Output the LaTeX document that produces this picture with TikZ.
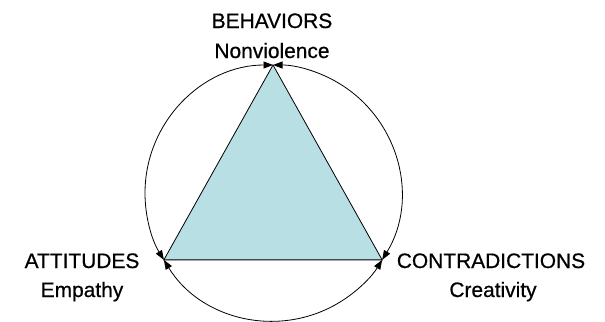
\documentclass[tikz,border=0pt]{standalone}
\usepackage{fontspec}
\setmainfont{Liberation Sans}[FakeBold=0.6]
\usetikzlibrary{arrows.meta,calc}
\definecolor{trifill}{RGB}{184,223,227}
\begin{document}
\begin{tikzpicture}[x=1bp,y=1bp,
  label text/.style={inner sep=0pt,anchor=base,font=\fontsize{21}{25}\selectfont},
  cycle arc/.style={line width=0.8bp,{Triangle[length=9.5bp,width=7bp]}-{Triangle[length=9.5bp,width=7bp]}},
  corner triangle/.style={draw=black,line width=0.8bp,fill=trifill,line join=miter}]
  \useasboundingbox (0,0) rectangle (605,321);
  % centre of the circle and the three corners on it
  \coordinate (O) at (273,128);
  \coordinate (T) at ($(O)+(90:128)$);
  \coordinate (L) at ($(O)+(211.5:128)$);
  \coordinate (R) at ($(O)+(328.5:128)$);
  % the triangle
  \draw[corner triangle] (T) -- (L) -- (R) -- cycle;
  % arcs linking the corners, arrow tips at both ends
  \draw[cycle arc] (T) arc[start angle=90,end angle=211.5,radius=128];
  \draw[cycle arc] (L) arc[start angle=211.5,end angle=328.5,radius=128];
  \draw[cycle arc] (R) arc[start angle=-31.5,end angle=90,radius=128];
  % labels
  \node[label text] (beh) at (272,293) {BEHAVIORS};
  \node[label text] (behsub) at (272,263) {Nonviolence};
  \node[label text] (att) at (82,53) {ATTITUDES};
  \node[label text] (attsub) at (82,24) {Empathy};
  \node[label text] (con) at (491,53) {CONTRADICTIONS};
  \node[label text] (consub) at (493,24) {Creativity};
\end{tikzpicture}
\end{document}
